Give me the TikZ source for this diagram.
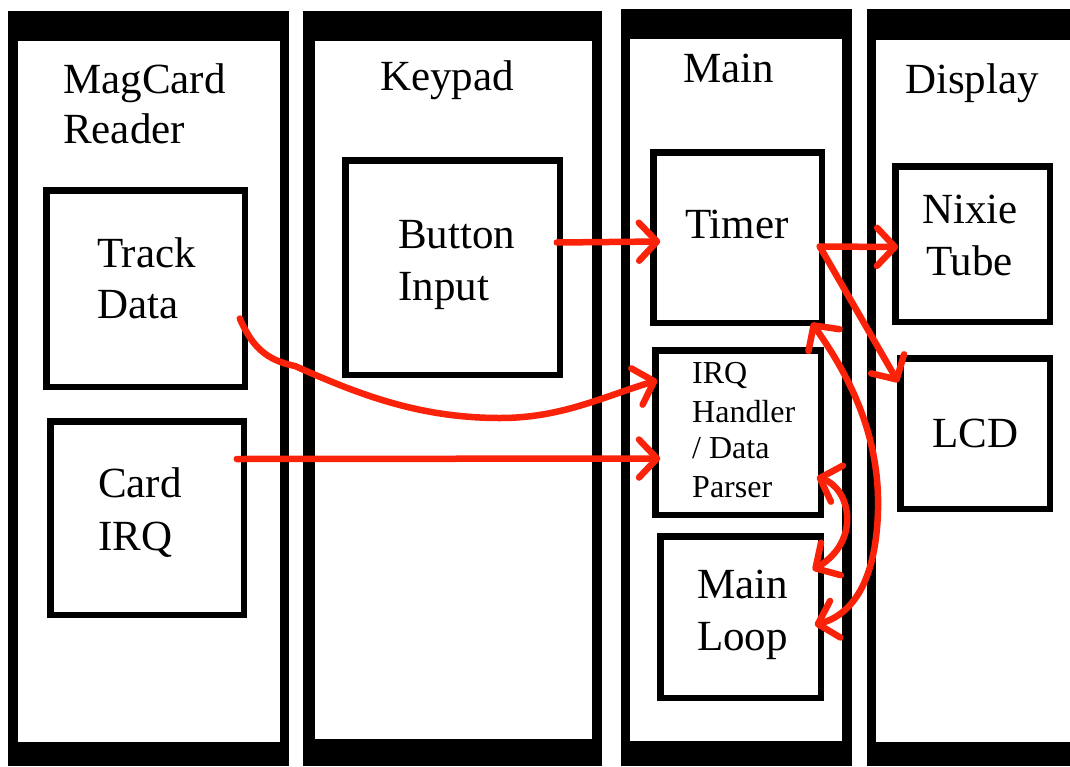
\documentclass[tikz,border=0pt]{standalone}
\usepackage{fontspec}
\setmainfont{Liberation Serif}
\usetikzlibrary{arrows.meta,calc}
\definecolor{pen}{RGB}{250,35,10}
\begin{document}
\begin{tikzpicture}[x=1pt,y=-1pt,
  box/.style={draw,line width=6.5pt,outer sep=0pt,inner sep=0pt,rectangle},
  lbl/.style={anchor=base west,inner sep=0pt,font=\fontsize{43}{50}\selectfont},
  sml/.style={anchor=base west,inner sep=0pt,font=\fontsize{32}{38}\selectfont},
  tipb/.tip={Straight Barb[length=18pt,width=38pt,round]},
  arr/.style={draw=pen,line width=6.5pt,line cap=round,line join=round,-tipb},
  darr/.style={draw=pen,line width=6.5pt,line cap=round,line join=round,tipb-tipb}]
\useasboundingbox (0,0) rectangle (1070,766);
\fill[white] (0,0) rectangle (1070,766);
% columns
\fill[black] (8,11) rectangle (289,766);   \fill[white] (18,41) rectangle (280,742);
\fill[black] (303,11) rectangle (602,766); \fill[white] (315,41) rectangle (592,739);
\fill[black] (621,9) rectangle (852,766);  \fill[white] (630,39) rectangle (842,741);
\fill[black] (867,9) rectangle (1070,766); \fill[white] (876,40) rectangle (1070,742);
% titles
\node[lbl] (t1a) at (63,93) {MagCard};
\node[lbl] (t1b) at (63,143) {Reader};
\node[lbl] (t2) at (380,90) {Keypad};
\node[lbl] (t3) at (683,82) {Main};
\node[lbl] (t4) at (905,93) {Display};
% boxes
\node[box,minimum width=198.5pt,minimum height=196.5pt] (track) at (145.5,288.5) {};
\node[box,minimum width=193.5pt,minimum height=193.5pt] (card) at (147,518) {};
\node[box,minimum width=214.5pt,minimum height=214.5pt] (button) at (452.5,267.5) {};
\node[box,minimum width=168.5pt,minimum height=170.5pt] (timer) at (737.5,237.5) {};
\node[box,minimum width=165.5pt,minimum height=164.5pt] (irq) at (738,432.5) {};
\node[box,minimum width=160.5pt,minimum height=161.5pt] (loop) at (740.5,617) {};
\node[box,minimum width=154.5pt,minimum height=155.5pt] (nixie) at (972.5,244) {};
\node[box,minimum width=149.5pt,minimum height=150.5pt] (lcd) at (975,433.5) {};
% box texts
\node[lbl] (trackA) at (97,267) {Track};
\node[lbl] (trackB) at (97,318) {Data};
\node[lbl] (cardA) at (98,497) {Card};
\node[lbl] (cardB) at (98,550) {IRQ};
\node[lbl] (buttonA) at (398,248) {Button};
\node[lbl] (buttonB) at (398,300) {Input};
\node[lbl] (timerA) at (685,238) {Timer};
\node[sml] (irqA) at (692,383) {IRQ};
\node[sml] (irqB) at (692,422) {Handler};
\node[sml] (irqC) at (692,458) {/ Data};
\node[sml] (irqD) at (692,497) {Parser};
\node[lbl] (loopA) at (697,598) {Main};
\node[lbl] (loopB) at (697,650) {Loop};
\node[lbl] (nixieA) at (922,223) {Nixie};
\node[lbl] (nixieB) at (926,275) {Tube};
\node[lbl] (lcdA) at (932,447) {LCD};
% connectors
\draw[arr] ($(button.east)+(-3,-25)$) -- ($(timer.west)+(7,4)$);
\draw[arr] ($(track.east)+(-5,30)$) .. controls +(12,27) and (265,360) .. (295,366)
  .. controls (360,395) and (420,418) .. (500,418)
  .. controls (560,418) and (600,398) .. ($(irq.north west)+(2,30)$);
\draw[arr] ($(card.east)+(-7,-59)$) -- ($(irq.west)+(5,26)$);
\coordinate (tout) at ($(timer.east)+(-2,9)$);
\draw[arr] (tout) -- ($(nixie.west)+(3,3)$);
\draw[arr] (tout) -- ($(lcd.north west)+(-2,24)$);
\draw[darr] ($(timer.south east)+(-10,0)$) .. controls (845,370) and (880,430) .. (878,510)
  .. controls (876,585) and (850,615) .. ($(loop.east)+(-6,8)$);
\draw[darr] ($(irq.east)+(-4,44.5)$) .. controls (850,488) and (862,540) .. ($(loop.east)+(-8,-47)$);
\end{tikzpicture}
\end{document}
